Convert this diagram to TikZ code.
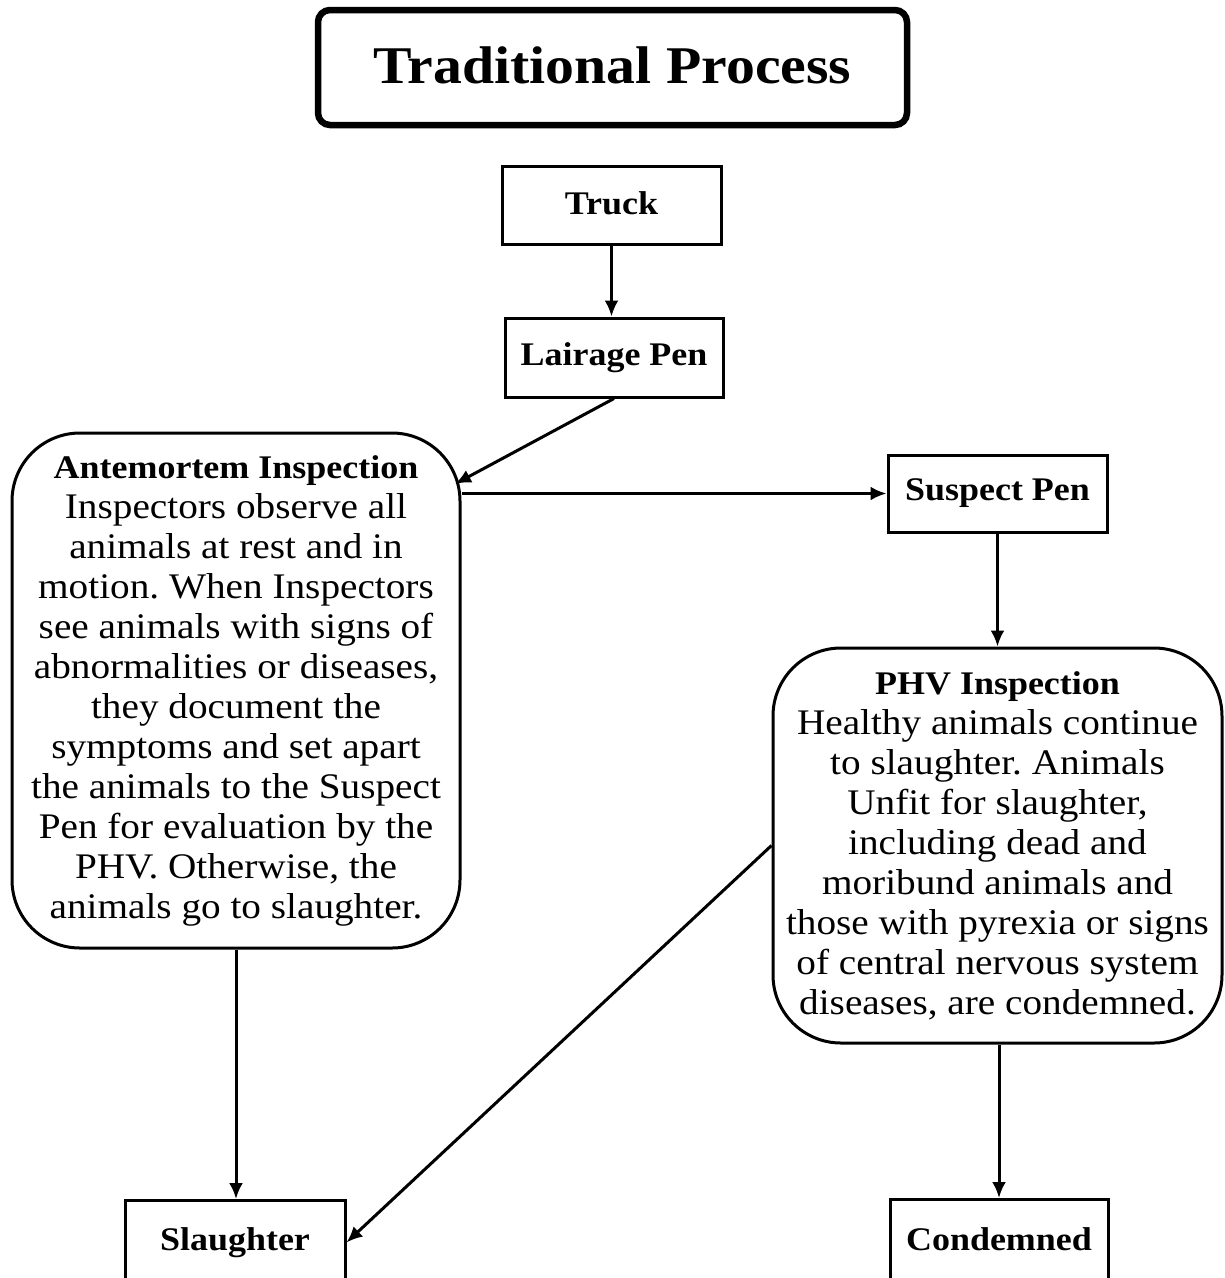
\documentclass[tikz,border=0pt]{standalone}
\usepackage{fontspec}
\setmainfont{Liberation Serif}[FakeStretch=1.09]
\usetikzlibrary{arrows.meta,calc}
\begin{document}
\frenchspacing
\begin{tikzpicture}[x=1pt,y=-1pt,
  boxline/.style={draw=black,line width=3pt,fill=white},
  plainbox/.style={boxline,rectangle,inner sep=0pt,align=center,font=\fontsize{33}{40}\selectfont\bfseries},
  roundbox/.style={boxline,rectangle,rounded corners=68pt,inner sep=0pt,align=center,font=\fontsize{36}{40}\selectfont},
  arr/.style={draw=black,line width=3pt,-{Latex[length=16pt,width=14pt]}}
]
\fill[white] (0,0) rectangle (1225,1278);
\useasboundingbox (0,0) rectangle (1225,1278);

\node[draw=black,line width=6.5pt,rounded corners=12pt,minimum width=589pt,minimum height=115pt,inner sep=0pt,font=\fontsize{53}{60}\selectfont\bfseries] (title) at (612.5,67.5) {\raisebox{5pt}{Traditional Process}};

\node[plainbox,minimum width=219pt,minimum height=78pt] (truck) at (611.5,205) {\raisebox{3pt}{Truck}};
\node[plainbox,minimum width=218pt,minimum height=79pt] (lair) at (614,357.5) {Lairage Pen};
\node[plainbox,minimum width=219pt,minimum height=77pt] (susp) at (997.5,493.5) {Suspect Pen};

\node[roundbox,minimum width=448pt,minimum height=515pt] (ante) at (236,690.5) {{\fontsize{33}{40}\selectfont\bfseries Antemortem Inspection}\\
Inspectors observe all\\
animals at rest and in\\
motion. When Inspectors\\
see animals with signs of\\
abnormalities or diseases,\\
they document the\\
symptoms and set apart\\
the animals to the Suspect\\
Pen for evaluation by the\\
PHV. Otherwise, the\\
animals go to slaughter.};

\node[roundbox,minimum width=449pt,minimum height=395pt] (phv) at (997.5,845.5) {{\fontsize{33}{40}\selectfont\bfseries PHV Inspection}\\
Healthy animals continue\\
to slaughter. Animals\\
Unfit for slaughter,\\
including dead and\\
moribund animals and\\
those with pyrexia or signs\\
of central nervous system\\
diseases, are condemned.};

\node[plainbox,minimum width=220pt,minimum height=84pt,anchor=north] (slau) at (235,1199) {\raisebox{2pt}{Slaughter}};
\node[plainbox,minimum width=218pt,minimum height=84pt,anchor=north] (cond) at (999,1198) {\raisebox{4pt}{Condemned}};

\coordinate (antein) at (455,484);

\draw[arr] (truck.south) -- (truck.south |- lair.north);
\draw[arr] (lair.south) -- (antein);
\draw[arr] (susp.west -| ante.east) -- (susp.west);
\draw[arr] (susp.south) -- (susp.south |- phv.north);
\draw[arr] (ante.south) -- (ante.south |- slau.north);
\draw[arr] (phv.west) -- (slau.east);
\draw[arr] (phv.south -| cond.north) -- (cond.north);
\end{tikzpicture}
\end{document}
